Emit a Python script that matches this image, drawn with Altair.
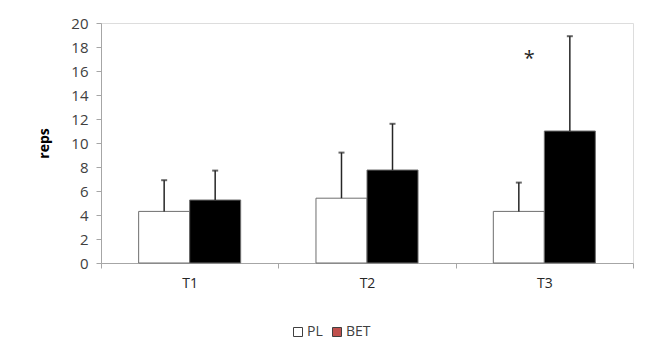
import altair as alt
import pandas as pd

categories = ["T1", "T2", "T3"]
groups = ["PL", "BET"]
pl_mean = [4.3, 5.4, 4.3]
pl_upper = [6.9, 9.2, 6.7]
bet_mean = [5.25, 7.75, 11.0]
bet_upper = [7.7, 11.6, 18.9]
star_cat = ["T3"]
star_value = [17.3]
y_ticks = [0, 2, 4, 6, 8, 10, 12, 14, 16, 18, 20]

rows = []
for i, c in enumerate(categories):
    rows.append({"cat": c, "grp": "PL", "mean": pl_mean[i], "upper": pl_upper[i]})
    rows.append({"cat": c, "grp": "BET", "mean": bet_mean[i], "upper": bet_upper[i]})
df = pd.DataFrame(rows)
star_df = pd.DataFrame({"cat": star_cat, "v": star_value, "t": ["*"]})

FONT = "Open Sans"
AX = "#A6A6A6"

x_enc = alt.X(
    "cat:N",
    sort=categories,
    scale=alt.Scale(domain=categories, paddingInner=0, paddingOuter=0),
    axis=alt.Axis(
        title=None, labelAngle=0, tickBand="extent", domainColor=AX, tickColor=AX,
        tickSize=5, labelPadding=8, labelFontSize=14, labelColor="#262626", labelFont=FONT,
    ),
)
xoff = alt.XOffset("grp:N", sort=groups,
                   scale=alt.Scale(domain=groups, paddingOuter=0.738, paddingInner=0))
y_scale = alt.Scale(domain=[0, 20], nice=False)
y_axis = alt.Axis(
    values=y_ticks, grid=False, title="reps", titleFontWeight="bold",
    titleFontSize=14, titleFont=FONT, titleColor="#000000", titlePadding=19,
    domainColor=AX, tickColor=AX, tickSize=5, labelPadding=8, labelOverlap=False,
    labelFontSize=15, labelColor="#404040", labelFont=FONT,
)


def Y(field):
    return alt.Y(field, scale=y_scale, axis=y_axis, title="reps")


base = alt.Chart(df)

bars = base.mark_bar(stroke="#6E6E6E", strokeWidth=1).encode(
    x=x_enc,
    xOffset=xoff,
    y=Y("mean:Q"),
    color=alt.Color("grp:N", sort=groups,
                    scale=alt.Scale(domain=groups, range=["#FFFFFF", "#000000"]), legend=None),
)

legend_layer = base.mark_bar(strokeWidth=0).encode(
    x=x_enc,
    xOffset=xoff,
    y=Y("zero:Q"),
    y2="zero:Q",
    color=alt.Color(
        "grp:N", sort=groups,
        scale=alt.Scale(domain=groups, range=["#FFFFFF", "#C0504D"]),
        legend=alt.Legend(
            title=None, orient="none", direction="horizontal", legendX=190, legendY=302,
            symbolType="square", symbolSize=81, symbolStrokeColor="#404040",
            symbolStrokeWidth=1, labelFontSize=14, labelFont=FONT, labelColor="#404040",
            labelOffset=2, columnPadding=7,
        ),
    ),
).transform_calculate(zero="0")

err_rule = base.mark_rule(color="#262626", strokeWidth=1.5).encode(
    x=x_enc, xOffset=xoff, y=Y("mean:Q"), y2="upper:Q"
)
err_cap = base.mark_tick(color="#262626", size=6, thickness=2).encode(
    x=x_enc, xOffset=xoff, y=Y("upper:Q")
)

star = alt.Chart(star_df).mark_text(fontSize=20, font=FONT, dx=-15, dy=4, color="#262626").encode(
    x=alt.X("cat:N", sort=categories, scale=alt.Scale(domain=categories)),
    y=Y("v:Q"),
    text="t:N",
)

chart = alt.layer(bars, legend_layer, err_rule, err_cap, star).resolve_scale(
    color="independent"
).properties(
    width=532, height=240,
    autosize=alt.AutoSizeParams(type="none"),
    padding={"left": 101, "top": 23, "right": 32, "bottom": 88},
).configure_view(stroke=None).configure(background="#FFFFFF")

chart.save("out.html", embed_options={"renderer": "svg", "actions": False})
